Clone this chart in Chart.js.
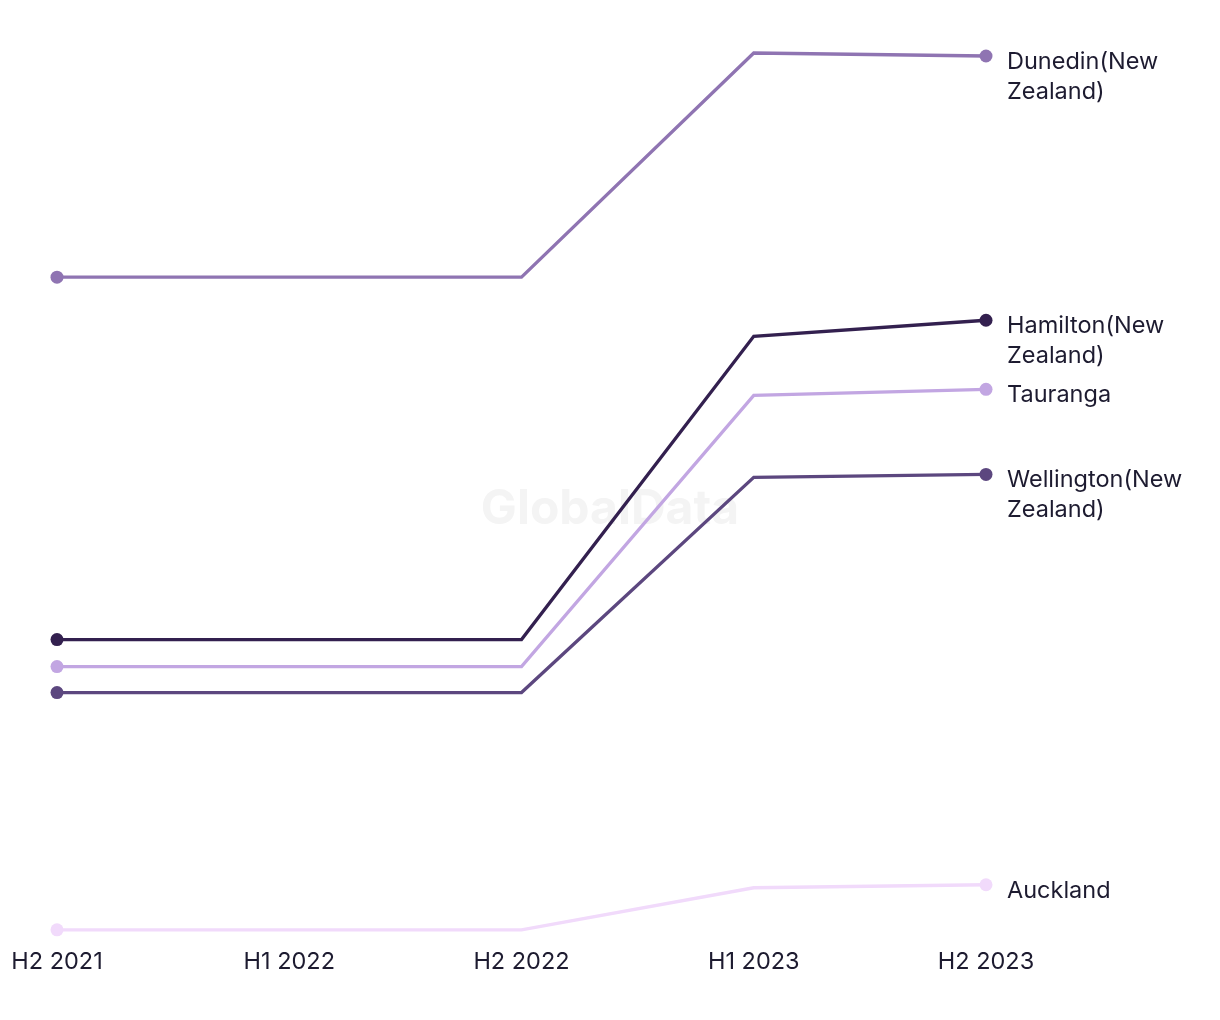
<!DOCTYPE html>
<html>
<head>
<meta charset="utf-8">
<script src="https://cdn.jsdelivr.net/npm/chart.js@4.4.1/dist/chart.umd.min.js"></script>
<style>
  html, body { margin:0; padding:0; background:#fff; }
  #wrap { width:1220px; height:1020px; }
</style>
</head>
<body>
<div id="wrap"><canvas id="chart" width="1220" height="1020"></canvas></div>
<script>
const periods = ['H2 2021', 'H1 2022', 'H2 2022', 'H1 2023', 'H2 2023'];

const dunedin    = [652, 652, 652, 876, 873];
const hamilton   = [290, 290, 290, 593, 609];
const tauranga   = [263, 263, 263, 534, 540];
const wellington = [237, 237, 237, 452, 455];
const auckland   = [0, 0, 0, 42, 45];

const cityNames = [
  ['Dunedin(New', 'Zealand)'],
  ['Hamilton(New', 'Zealand)'],
  ['Tauranga'],
  ['Wellington(New', 'Zealand)'],
  ['Auckland']
];

const colours = ['#8f74b2', '#33204f', '#c2a6e2', '#5c477f', '#f1dafb'];

const txt = '#1d1b30';
const font = "Inter, 'Noto Sans', sans-serif";

function ds(label, data, colour){
  return {
    label,
    data,
    borderColor: colour,
    backgroundColor: colour,
    borderWidth: 3.3,
    tension: 0,
    pointRadius: (c) => (c.dataIndex === 0 || c.dataIndex === periods.length - 1) ? 6.5 : 0,
    pointHoverRadius: 6.5,
    pointBorderWidth: 0,
    clip: false
  };
}

// faint watermark behind lines
const watermark = {
  id: 'watermark',
  beforeDatasetsDraw(chart){
    const { ctx } = chart;
    ctx.save();
    ctx.font = "bold 48px Inter, 'Noto Sans', sans-serif";
    ctx.fillStyle = '#f4f4f4';
    ctx.textAlign = 'center';
    ctx.textBaseline = 'middle';
    ctx.fillText('GlobalData', 610, 510);
    ctx.restore();
  }
};

// series names at the end of each line
const endLabels = {
  id: 'endLabels',
  afterDatasetsDraw(chart){
    const { ctx } = chart;
    ctx.save();
    ctx.font = "23.5px " + font;
    ctx.fillStyle = txt;
    ctx.textAlign = 'left';
    ctx.textBaseline = 'middle';
    chart.data.datasets.forEach((d, i) => {
      const meta = chart.getDatasetMeta(i);
      const pt = meta.data[meta.data.length - 1];
      cityNames[i].forEach((line, j) => {
        ctx.fillText(line, pt.x + 21, pt.y + 6 + j * 30);
      });
    });
    ctx.restore();
  }
};

new Chart(document.getElementById('chart'), {
  type: 'line',
  data: {
    labels: periods,
    datasets: [
      ds('Dunedin(New Zealand)', dunedin, colours[0]),
      ds('Hamilton(New Zealand)', hamilton, colours[1]),
      ds('Tauranga', tauranga, colours[2]),
      ds('Wellington(New Zealand)', wellington, colours[3]),
      ds('Auckland', auckland, colours[4])
    ]
  },
  options: {
    responsive: false,
    animation: false,
    layout: { padding: { left: 57, right: 234, top: 53, bottom: 34 } },
    plugins: {
      legend: { display: false },
      tooltip: { enabled: false }
    },
    scales: {
      x: {
        offset: false,
        grid: { display: false },
        border: { display: false },
        ticks: { color: txt, font: { family: font, size: 23.5 }, padding: 10, maxRotation: 0, autoSkip: false }
      },
      y: {
        display: false,
        min: 0,
        max: 876
      }
    }
  },
  plugins: [watermark, endLabels]
});
</script>
</body>
</html>
